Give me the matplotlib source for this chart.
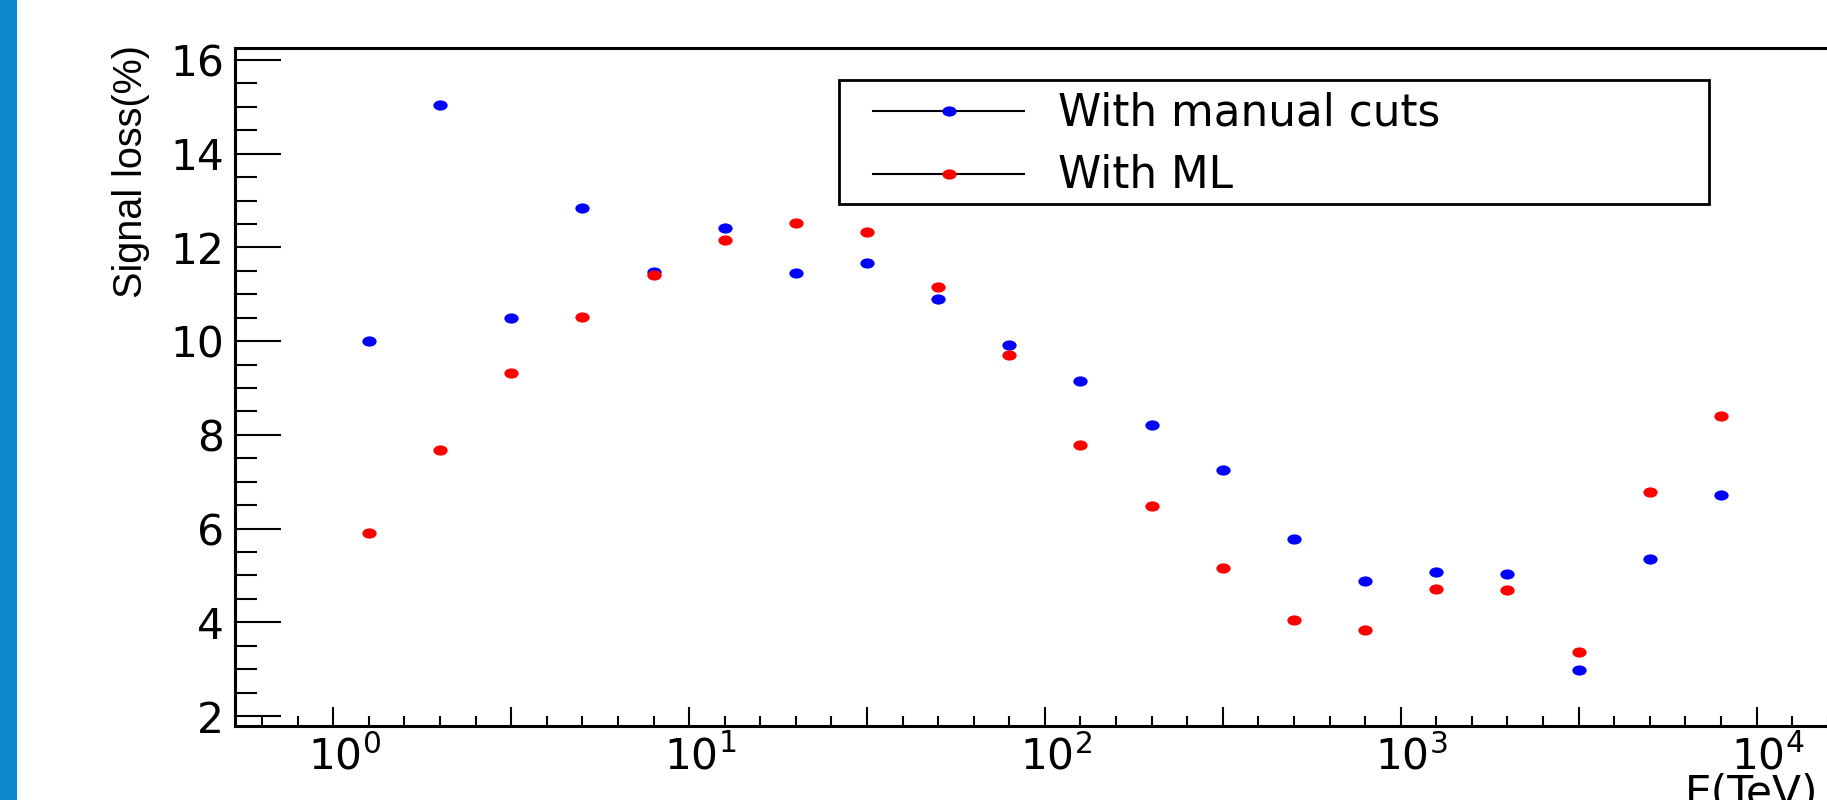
import numpy as np
import matplotlib
matplotlib.use("Agg")
import matplotlib.pyplot as plt
from matplotlib import font_manager
from matplotlib.path import Path
from matplotlib.lines import Line2D
from matplotlib.patches import Rectangle
from matplotlib.ticker import FixedLocator, FuncFormatter
from matplotlib.transforms import ScaledTranslation

# ---------------- data ----------------
energy_tev = [1.259, 1.995, 3.162, 5.012, 7.943, 12.59, 19.95, 31.62, 50.12, 79.43,
              125.9, 199.5, 316.2, 501.2, 794.3, 1259, 1995, 3162, 5012, 7943]
loss_manual = [10.01, 15.05, 10.50, 12.85, 11.47, 12.41, 11.45, 11.67, 10.91, 9.92,
               9.16, 8.22, 7.24, 5.78, 4.88, 5.07, 5.04, 2.99, 5.34, 6.71]
loss_ml = [5.90, 7.68, 9.32, 10.52, 11.41, 12.15, 12.52, 12.33, 11.16, 9.70,
           7.79, 6.48, 5.16, 4.04, 3.83, 4.70, 4.69, 3.37, 6.79, 8.40]
series_labels = ["With manual cuts", "With ML"]
series_colors = ["#0000ff", "#ff0000"]
x_title = "E(TeV)"
y_title = "Signal loss(%)"

# ---------------- fonts ----------------
avail = {f.name for f in font_manager.fontManager.ttflist}
main_font = "DejaVu Sans"
ylab_font = "Liberation Sans"
ylab_size = 28.5
for cand, sz in [("Liberation Sans Narrow", 34), ("DejaVu Sans Condensed", 30)]:
    if cand in avail:
        ylab_font, ylab_size = cand, sz
        break
plt.rcParams["font.family"] = [main_font]
plt.rcParams["mathtext.default"] = "regular"

TICK_FS = 30.5
LEG_FS = 31.5

W, H = 1827, 800
fig = plt.figure(figsize=(W / 100, H / 100), dpi=100)
fig.patch.set_facecolor("white")

def fx(px):
    return px / W

def fy(py):
    return 1 - py / H

# left blue band
fig.add_artist(Rectangle((0, 0), fx(17), 1, transform=fig.transFigure,
                         facecolor="#0b89cb", edgecolor="none", zorder=0))

# axes geometry (right part runs beyond the figure edge)
ax_left_px, ax_right_px, ax_top_px, ax_bot_px = 235, 1900, 48, 726
ax = fig.add_axes([fx(ax_left_px), fy(ax_bot_px),
                   fx(ax_right_px - ax_left_px), (ax_bot_px - ax_top_px) / H])
ax.set_xscale("log")
ax.set_xlim(10 ** -0.2763, 10 ** 4.4033)
ax.set_ylim(1.7866, 16.256)

# ellipse marker (stretched canvas)
circ = Path.unit_circle()
ell = Path(circ.vertices * np.array([1.4, 1.0]), circ.codes)
MS = 10.3

ax.plot(energy_tev, loss_manual, linestyle="none", marker=ell, markersize=MS,
        markeredgewidth=0, color=series_colors[0], zorder=3)
ax.plot(energy_tev, loss_ml, linestyle="none", marker=ell, markersize=MS,
        markeredgewidth=0, color=series_colors[1], zorder=4)

# spines
for s in ["left", "bottom", "top", "right"]:
    ax.spines[s].set_linewidth(2.2)
    ax.spines[s].set_color("black")

# y ticks
ax.yaxis.set_major_locator(FixedLocator(np.arange(2, 17, 2)))
ax.yaxis.set_minor_locator(FixedLocator(np.arange(2, 16.3, 0.5)))
ax.tick_params(axis="y", which="major", direction="in", length=33, width=1.5,
               labelsize=TICK_FS, pad=8, left=True, right=False)
ax.tick_params(axis="y", which="minor", direction="in", length=16, width=1.5,
               left=True, right=False)

# x ticks: majors every half decade, minors every tenth of a decade
maj = [10 ** (k / 2) for k in range(-1, 10)]
mino = [10 ** (m / 10) for m in range(-3, 46) if m % 5 != 0]
ax.xaxis.set_major_locator(FixedLocator(maj))
ax.xaxis.set_minor_locator(FixedLocator(mino))

def fmt(x, pos):
    lx = np.log10(x)
    if abs(lx - round(lx)) < 1e-6:
        return r"$10^{%d}$" % int(round(lx))
    return ""

ax.xaxis.set_major_formatter(FuncFormatter(fmt))
ax.xaxis.set_minor_formatter(FuncFormatter(lambda x, p: ""))
ax.tick_params(axis="x", which="major", direction="in", length=14, width=1.5,
               labelsize=TICK_FS, pad=7, bottom=True, top=False)
ax.tick_params(axis="x", which="minor", direction="in", length=7, width=1.5,
               bottom=True, top=False)

offset = ScaledTranslation(0.11, 0, fig.dpi_scale_trans)
for t in ax.xaxis.get_major_ticks():
    t.label1.set_transform(t.label1.get_transform() + offset)

# axis titles
ax.set_xlabel(x_title, fontsize=TICK_FS, ha="left", va="top")
ax.xaxis.set_label_coords((1685 - ax_left_px) / (ax_right_px - ax_left_px),
                          -(773 - ax_bot_px) / (ax_bot_px - ax_top_px))
fig.text(fx(131), fy(172), y_title, rotation=90, ha="center", va="center",
         fontsize=ylab_size, family=[ylab_font, "DejaVu Sans"])

# legend (drawn manually to match the box geometry)
fig.add_artist(Rectangle((fx(839), fy(204)), fx(1709 - 839), (204 - 80) / H,
                         transform=fig.transFigure, facecolor="white",
                         edgecolor="black", linewidth=2.0, zorder=5))
rows_y = [111, 174]
base_y = [125, 188]
for lab, col, ry, by in zip(series_labels, series_colors, rows_y, base_y):
    fig.add_artist(Line2D([fx(873), fx(1024)], [fy(ry), fy(ry)],
                          transform=fig.transFigure, color="black",
                          linewidth=1.5, zorder=6))
    fig.add_artist(Line2D([fx(949)], [fy(ry)], transform=fig.transFigure,
                          linestyle="none", marker=ell, markersize=MS,
                          markeredgewidth=0, color=col, zorder=7))
    fig.text(fx(1058), fy(by), lab, fontsize=LEG_FS, ha="left", va="baseline",
             zorder=7)

fig.savefig("out.png", dpi=100)
